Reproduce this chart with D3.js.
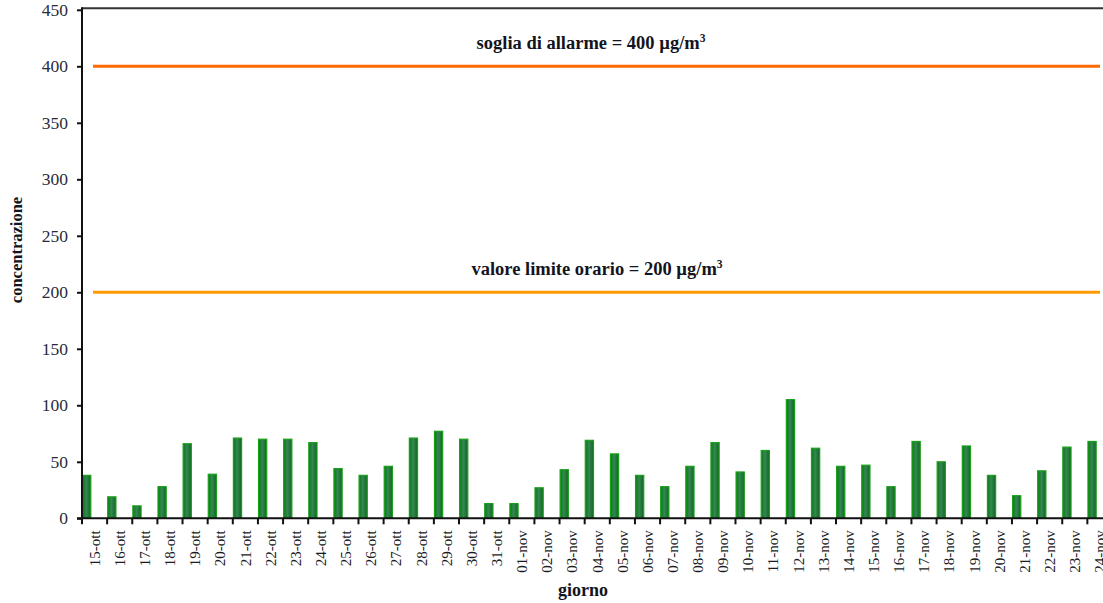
<!DOCTYPE html>
<html>
<head>
<meta charset="utf-8">
<script src="https://cdn.jsdelivr.net/npm/d3@7"></script>
<style>
  html, body { margin: 0; padding: 0; background: #fff; }
  svg { display: block; }
</style>
</head>
<body>
<svg id="chart" width="1103" height="603"></svg>
<script>
const categories = ["15-ott","16-ott","17-ott","18-ott","19-ott","20-ott","21-ott","22-ott","23-ott","24-ott","25-ott","26-ott","27-ott","28-ott","29-ott","30-ott","31-ott",
  "01-nov","02-nov","03-nov","04-nov","05-nov","06-nov","07-nov","08-nov","09-nov","10-nov","11-nov","12-nov","13-nov","14-nov","15-nov","16-nov","17-nov","18-nov","19-nov","20-nov","21-nov","22-nov","23-nov","24-nov"];
const values = [38,19,11,28,66,39,71,70,70,67,44,38,46,71,77,70,13,
  13,27,43,69,57,38,28,46,67,41,60,105,62,46,47,28,68,50,64,38,20,42,63,68];
const yTicks = [0,50,100,150,200,250,300,350,400,450];
const thresholds = [
  {value: 400, label: "soglia di allarme = 400 µg/m", color: "#ff6a00", cx: 591},
  {value: 200, label: "valore limite orario = 200 µg/m", color: "#ff9a00", cx: 597}
];
const yTitle = "concentrazione";
const xTitle = "giorno";

(function () {
const FONT = "'Liberation Serif', 'Times New Roman', serif";
const svg = d3.select("#chart");
const pLeft = 82, pRight = 1112.5, pTop = 9.8, pBottom = 518.3;

const x = d3.scaleBand().domain(categories).range([pLeft, pRight]).padding(0);
const y = d3.scaleLinear().domain([0, 450]).range([pBottom, pTop]);

const defs = svg.append("defs");
const g1 = defs.append("linearGradient").attr("id", "barGrad").attr("x1", "0").attr("x2", "1").attr("y1", "0").attr("y2", "0");
g1.append("stop").attr("offset", "0%").attr("stop-color", "#087a10");
g1.append("stop").attr("offset", "45%").attr("stop-color", "#358656");
g1.append("stop").attr("offset", "100%").attr("stop-color", "#10661e");

// top frame line
svg.append("line").attr("x1", pLeft).attr("x2", 1103).attr("y1", pTop - 1.5).attr("y2", pTop - 1.5)
  .attr("stroke", "#333").attr("stroke-width", 2);

// threshold lines
thresholds.forEach(t => {
  svg.append("line").attr("x1", 93).attr("x2", 1100).attr("y1", y(t.value)).attr("y2", y(t.value))
    .attr("stroke", t.color).attr("stroke-width", 3);
  const txt = svg.append("text").attr("x", t.cx).attr("y", y(t.value) - 17)
    .attr("text-anchor", "middle")
    .attr("font-family", FONT)
    .attr("font-weight", "bold").attr("font-size", 18.5).attr("fill", "#141420")
    .text(t.label);
  txt.append("tspan").attr("font-size", 11.5).attr("dy", -7.5).text("3");
});

// bars
const barW = 8.2;
svg.append("g").selectAll("rect").data(values).join("rect")
  .attr("x", (d, i) => x(categories[i]) + 0.6)
  .attr("width", barW)
  .attr("y", d => y(d))
  .attr("height", d => y(0) - y(d))
  .attr("fill", "url(#barGrad)")
  .attr("stroke", "#18a018")
  .attr("stroke-width", 1.2);

// y axis
const yAxis = d3.axisLeft(y).tickValues(yTicks).tickSize(5).tickPadding(9).tickSizeOuter(0);
const ya = svg.append("g").attr("transform", `translate(${pLeft},0)`).call(yAxis);
ya.attr("font-family", FONT);
ya.select(".domain").attr("stroke", "#111").attr("stroke-width", 2).attr("d", `M0,${pTop - 2.5}V${pBottom}`);
ya.selectAll(".tick line").attr("stroke", "#111").attr("stroke-width", 2);
ya.selectAll(".tick text").attr("font-family", FONT)
  .attr("font-size", 17.5).attr("fill", "#2a2a38");

// x axis
const xAxis = d3.axisBottom(x).tickSize(0).tickSizeOuter(0);
const xa = svg.append("g").attr("transform", `translate(0,${pBottom})`).call(xAxis);
xa.attr("font-family", FONT);
xa.select(".domain").attr("stroke", "#111").attr("stroke-width", 2).attr("d", `M${pLeft - 5},0H1103`);
xa.selectAll(".tick text")
  .attr("font-family", FONT)
  .attr("font-size", 15).attr("fill", "#1a1a24")
  .attr("transform", "rotate(-90)")
  .attr("text-anchor", "end")
  .attr("x", -12).attr("y", 0).attr("dy", "0.35em");
svg.append("g").selectAll("line").data(categories).join("line")
  .attr("x1", d => x(d)).attr("x2", d => x(d))
  .attr("y1", pBottom).attr("y2", pBottom + 6)
  .attr("stroke", "#111").attr("stroke-width", 2);

// axis titles
svg.append("text").attr("transform", `translate(22,250) rotate(-90)`)
  .attr("text-anchor", "middle")
  .attr("font-family", FONT)
  .attr("font-weight", "bold").attr("font-size", 16.5).attr("fill", "#141420")
  .text(yTitle);
svg.append("text").attr("x", 583).attr("y", 596)
  .attr("text-anchor", "middle")
  .attr("font-family", FONT)
  .attr("font-weight", "bold").attr("font-size", 18).attr("fill", "#141420")
  .text(xTitle);
})();
</script>
</body>
</html>
